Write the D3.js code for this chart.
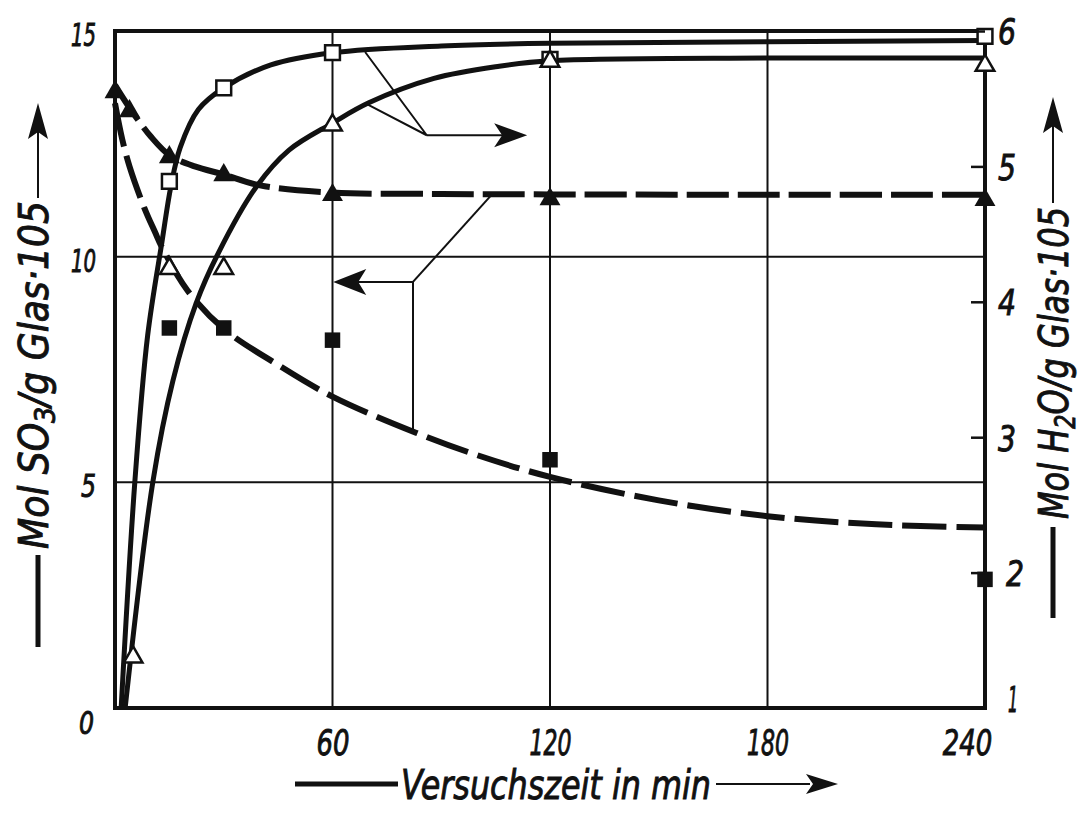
<!DOCTYPE html>
<html>
<head>
<meta charset="utf-8">
<script src="https://cdn.jsdelivr.net/npm/d3@7"></script>
<style>
  html, body { margin: 0; padding: 0; background: #fff; }
  svg { display: block; }
  text {
    font-family: 'Liberation Sans Narrow', 'DejaVu Sans Condensed', 'Arial Narrow', sans-serif;
    font-style: italic;
    fill: #111;
    stroke: #111;
    stroke-width: 0.9px;
  }
</style>
</head>
<body>
<svg id="chart" width="1084" height="814"></svg>
<script>
// ---------------- data ----------------
// tick labels
const xTicks = [60, 120, 180, 240];
const leftTicks = [0, 5, 10, 15];
const rightTicks = [1, 2, 3, 4, 5, 6];
const xGrid = [60, 120, 180];
const leftGrid = [5, 10];

// measured points, H2O (right axis)
const h2oSquareT = [15, 30, 60, 120, 240];
const h2oSquareV = [4.89, 5.58, 5.84, 5.79, 5.96];
const h2oTriT = [5, 15, 30, 60, 120, 240];
const h2oTriV = [1.39, 4.26, 4.26, 5.32, 5.79, 5.76];

// measured points, SO3 (left axis)
const so3TriT = [0, 4, 15, 30, 60, 120, 240];
const so3TriV = [13.69, 13.27, 12.25, 11.85, 11.41, 11.32, 11.30];
const so3SquareT = [15, 30, 60, 120, 240];
const so3SquareV = [8.42, 8.42, 8.15, 5.50, 2.85];

// fitted curves
const fitH2oSquareT = [1.7, 5.5, 9, 13, 15.4, 18, 23, 30, 43, 60, 90, 120, 180, 240];
const fitH2oSquareV = [1.0, 2.68, 3.75, 4.45, 4.85, 5.14, 5.42, 5.58, 5.75, 5.84, 5.89, 5.91, 5.92, 5.93];
const fitH2oTriT = [2.8, 10.5, 16, 22.4, 28.5, 39, 48, 60, 70, 88, 106, 120, 180, 240];
const fitH2oTriV = [1.0, 2.68, 3.42, 3.99, 4.36, 4.85, 5.12, 5.32, 5.47, 5.65, 5.74, 5.78, 5.80, 5.80];
const fitSo3TriT = [0, 4, 10, 15, 22, 30, 40, 60, 90, 120, 180, 240];
const fitSo3TriV = [13.8, 13.3, 12.65, 12.25, 12.0, 11.82, 11.58, 11.42, 11.39, 11.38, 11.37, 11.37];
const fitSo3SquareT = [0, 2, 4, 8, 11, 13, 20, 30, 45, 60, 83, 100, 120, 150, 180, 210, 240];
const fitSo3SquareV = [13.4, 12.6, 12.0, 11.1, 10.55, 10.2, 9.25, 8.4, 7.6, 6.9, 6.1, 5.6, 5.12, 4.6, 4.25, 4.07, 4.0];

// ---------------- setup ----------------
const svg = d3.select('#chart');
const x = d3.scaleLinear().domain([0, 240]).range([115, 985]);
const yL = d3.scaleLinear().domain([0, 15]).range([708, 31]);
const yR = d3.scaleLinear().domain([1, 6]).range([708, 31]);
const zip = (a, b) => a.map((v, i) => [v, b[i]]);
const INK = '#111';

// grid
const grid = svg.append('g').attr('stroke', INK).attr('stroke-width', 2);
grid.selectAll('line.v').data(xGrid).join('line')
  .attr('x1', d => x(d)).attr('x2', d => x(d))
  .attr('y1', yL(0)).attr('y2', yL(15));
grid.selectAll('line.h').data(leftGrid).join('line')
  .attr('x1', x(0)).attr('x2', x(240))
  .attr('y1', d => yL(d)).attr('y2', d => yL(d));

// curves
const smooth = d3.curveCatmullRom.alpha(0.5);
const lineR = d3.line().x(d => x(d[0])).y(d => yR(d[1])).curve(smooth);
const lineL = d3.line().x(d => x(d[0])).y(d => yL(d[1])).curve(smooth);
const curves = svg.append('g').attr('fill', 'none').attr('stroke', INK).attr('stroke-linecap', 'butt');
curves.append('path').attr('d', lineR(zip(fitH2oSquareT, fitH2oSquareV))).attr('stroke-width', 5);
curves.append('path').attr('d', lineR(zip(fitH2oTriT, fitH2oTriV))).attr('stroke-width', 5);
curves.append('path').attr('d', lineL(zip(fitSo3TriT, fitSo3TriV)))
  .attr('stroke-width', 6).attr('stroke-dasharray', '42,9');
curves.append('path').attr('d', lineL(zip(fitSo3SquareT, fitSo3SquareV)))
  .attr('stroke-width', 6).attr('stroke-dasharray', '44,10');

// arrowhead polygon with a notched back, tip at (tx,ty), pointing along angle ang
function headPath(tx, ty, ang, len, half, notch) {
  const c = Math.cos(ang), s = Math.sin(ang);
  const p = (u, v) => [tx - u * c - v * s, ty - u * s + v * c];
  return 'M' + [p(0, 0), p(len, -half), p(len - notch, 0), p(len, half)].map(q => q.join(',')).join('L') + 'Z';
}

// pointer annotations: solid curves -> right axis, dashed curves -> left axis
const ann = svg.append('g').attr('stroke', INK).attr('stroke-width', 2).attr('fill', 'none');
const upJ = [x(86), yR(5.23)];
ann.append('polyline').attr('points', [[x(69), yR(5.845)], upJ, [x(69.5), yR(5.46)]].join(' '));
ann.append('line').attr('x1', upJ[0]).attr('y1', upJ[1]).attr('x2', x(108)).attr('y2', upJ[1]);
const loJ = [x(82.2), yL(9.44)];
ann.append('line').attr('x1', x(104)).attr('y1', yL(11.38)).attr('x2', loJ[0]).attr('y2', loJ[1]);
ann.append('line').attr('x1', loJ[0]).attr('y1', loJ[1]).attr('x2', x(66)).attr('y2', loJ[1]);
ann.append('line').attr('x1', loJ[0]).attr('y1', loJ[1]).attr('x2', loJ[0]).attr('y2', yL(6.1));
const heads = svg.append('g').attr('fill', INK).attr('stroke', 'none');
heads.append('path').attr('d', headPath(x(113.7), upJ[1], 0, 33, 12, 8));
heads.append('path').attr('d', headPath(x(60.2), loJ[1], Math.PI, 33, 13, 8));

// frame
svg.append('rect').attr('x', x(0)).attr('y', yL(15))
  .attr('width', x(240) - x(0)).attr('height', yL(0) - yL(15))
  .attr('fill', 'none').attr('stroke', INK).attr('stroke-width', 4);

// markers
const sym = (type, size) => d3.symbol().type(type).size(size)();
const mk = svg.append('g');
mk.selectAll('path.osq').data(zip(h2oSquareT, h2oSquareV)).join('path')
  .attr('d', sym(d3.symbolSquare, 220))
  .attr('transform', d => `translate(${x(d[0])},${yR(d[1])})`)
  .attr('fill', '#fff').attr('stroke', INK).attr('stroke-width', 2.5);
mk.selectAll('path.otr').data(zip(h2oTriT, h2oTriV)).join('path')
  .attr('d', sym(d3.symbolTriangle, 150))
  .attr('transform', d => `translate(${x(d[0])},${yR(d[1]) + 2})`)
  .attr('fill', '#fff').attr('stroke', INK).attr('stroke-width', 2.5);
mk.selectAll('path.ftr').data(zip(so3TriT, so3TriV)).join('path')
  .attr('d', sym(d3.symbolTriangle, 190))
  .attr('transform', d => `translate(${x(d[0])},${yL(d[1]) + 2})`)
  .attr('fill', INK);
mk.selectAll('path.fsq').data(zip(so3SquareT, so3SquareV)).join('path')
  .attr('d', sym(d3.symbolSquare, 240))
  .attr('transform', d => `translate(${x(d[0])},${yL(d[1])})`)
  .attr('fill', INK);

// axes
const fmt = d3.format('d');
const xAxis = svg.append('g').attr('transform', `translate(0,${yL(0)})`)
  .call(d3.axisBottom(x).tickValues(xTicks).tickFormat(fmt).tickSize(0).tickPadding(21));
const lAxis = svg.append('g').attr('transform', `translate(${x(0)},0)`)
  .call(d3.axisLeft(yL).tickValues(leftTicks).tickFormat(fmt).tickSize(0).tickPadding(19));
const rAxis = svg.append('g').attr('transform', `translate(${x(240)},0)`)
  .call(d3.axisRight(yR).tickValues(rightTicks).tickFormat(fmt).tickSizeInner(-14).tickSizeOuter(0).tickPadding(13));
[xAxis, lAxis, rAxis].forEach(a => {
  a.select('.domain').remove();
  a.attr('font-family', null).attr('font-size', null);
  a.selectAll('text').attr('fill', INK).attr('lengthAdjust', 'spacingAndGlyphs');
});
// narrow lettering: fixed advance per digit, narrower for "1"
const labelW = (d, w, w1) => String(fmt(d)).split('').reduce((s, c) => s + (c === '1' ? w1 : w), 0);
xAxis.selectAll('text').attr('font-size', 36).attr('textLength', d => labelW(d, 16.5, 9));
lAxis.selectAll('text').attr('font-size', 32).attr('dy', '0.45em').attr('textLength', d => labelW(d, 15, 10));
rAxis.selectAll('text').attr('font-size', 36).attr('dy', '0.36em').attr('textLength', d => labelW(d, 18, 10));
rAxis.selectAll('.tick line').attr('stroke', INK).attr('stroke-width', 2.5);
xAxis.selectAll('.tick').filter(d => d === 240).select('text').attr('dx', -18);
lAxis.selectAll('.tick').filter(d => d === 0).select('text').attr('dy', '0.8em').attr('dx', -2);
rAxis.selectAll('.tick').filter(d => d === 1).select('text').attr('dy', '0.1em').attr('dx', 10);
rAxis.selectAll('.tick').filter(d => d === 2).select('text').attr('dx', 8);

// axis titles
const titles = svg.append('g');
const thick = 5, thin = 2;
// bottom
titles.append('line').attr('x1', 295).attr('x2', 398).attr('y1', 784).attr('y2', 784)
  .attr('stroke', INK).attr('stroke-width', thick);
titles.append('text').attr('x', 401).attr('y', 799).attr('font-size', 40)
  .attr('textLength', 310).attr('lengthAdjust', 'spacingAndGlyphs')
  .text('Versuchszeit in min');
titles.append('line').attr('x1', 716).attr('x2', 810).attr('y1', 784).attr('y2', 784)
  .attr('stroke', INK).attr('stroke-width', thin);
titles.append('path').attr('d', headPath(838, 784, 0, 32, 10, 7)).attr('fill', INK);

// left (SO3)
titles.append('line').attr('x1', 38).attr('x2', 38).attr('y1', 555).attr('y2', 647)
  .attr('stroke', INK).attr('stroke-width', thick);
const lt = titles.append('text').attr('transform', 'translate(48,549) rotate(-90)')
  .attr('font-size', 40).attr('textLength', 348).attr('lengthAdjust', 'spacingAndGlyphs');
lt.append('tspan').text('Mol SO');
lt.append('tspan').attr('font-size', 28).attr('dy', 7).text('3');
lt.append('tspan').attr('dy', -7).text('/g Glas·105');
titles.append('line').attr('x1', 38).attr('x2', 38).attr('y1', 198).attr('y2', 130)
  .attr('stroke', INK).attr('stroke-width', thin);
titles.append('path').attr('d', headPath(38, 103, -Math.PI / 2, 36, 10, 7)).attr('fill', INK);

// right (H2O)
titles.append('line').attr('x1', 1053).attr('x2', 1053).attr('y1', 527).attr('y2', 618)
  .attr('stroke', INK).attr('stroke-width', thick);
const rt = titles.append('text').attr('transform', 'translate(1068,519) rotate(-90)')
  .attr('font-size', 40).attr('textLength', 312).attr('lengthAdjust', 'spacingAndGlyphs');
rt.append('tspan').text('Mol H');
rt.append('tspan').attr('font-size', 28).attr('dy', 7).text('2');
rt.append('tspan').attr('dy', -7).text('O/g Glas·105');
titles.append('line').attr('x1', 1053).attr('x2', 1053).attr('y1', 203).attr('y2', 125)
  .attr('stroke', INK).attr('stroke-width', thin);
titles.append('path').attr('d', headPath(1053, 97, -Math.PI / 2, 36, 10, 7)).attr('fill', INK);
</script>
</body>
</html>
